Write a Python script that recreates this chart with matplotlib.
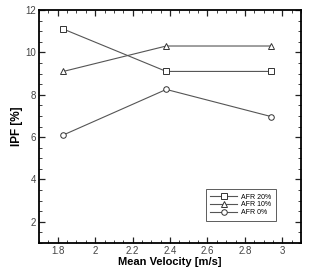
import matplotlib
matplotlib.use("Agg")
import matplotlib.pyplot as plt
from matplotlib.ticker import MultipleLocator

plt.rcParams["font.family"] = ["Liberation Sans", "DejaVu Sans"]

# datos
velocidad = [1.83, 2.38, 2.94]
afr20 = [11.1, 9.1, 9.1]
afr10 = [9.1, 10.3, 10.3]
afr0 = [6.1, 8.25, 6.97]
etiquetas = ["AFR 20%", "AFR 10%", "AFR 0%"]

fig = plt.figure(figsize=(3.32, 2.72), dpi=100)
ax = fig.add_axes([39 / 332, 1 - 243 / 272, 262 / 332, 233 / 272])

color = "#555555"
estilo = dict(color=color, lw=0.8, mfc="white", mec="#333333", mew=0.7, ms=4)
ax.plot(velocidad, afr20, marker="s", label=etiquetas[0], **estilo)
ax.plot(velocidad, afr10, marker="^", label=etiquetas[1], **estilo)
ax.plot(velocidad, afr0, marker="o", label=etiquetas[2], **estilo)

ax.set_xlim(1.7, 3.1)
ax.set_ylim(1, 12)
ax.xaxis.set_minor_locator(MultipleLocator(0.05))
ax.yaxis.set_minor_locator(MultipleLocator(0.5))
ax.set_xticks([1.8, 2.0, 2.2, 2.4, 2.6, 2.8, 3.0])
ax.set_xticklabels(["1.8", "2", "2.2", "2.4", "2.6", "2.8", "3"])
ax.set_yticks([2, 4, 6, 8, 10, 12])
ax.set_yticklabels(["2", "4", "6", "8", "10", "12"])

ax.tick_params(which="both", direction="in", top=True, right=True, labelsize=7, colors="#222222", pad=2)
ax.tick_params(axis="both", labelcolor="#444444")
ax.tick_params(which="major", length=4, width=0.9)
ax.tick_params(which="minor", length=2, width=0.6)
for s in ax.spines.values():
    s.set_linewidth(1.3)

ax.set_xlabel("Mean Velocity [m/s]", fontsize=8, fontweight="bold", labelpad=1)
ax.set_ylabel("IPF [%]", fontsize=8.5, fontweight="bold", labelpad=2)

leg = ax.legend(loc="lower right", bbox_to_anchor=(0.918, 0.08), fontsize=5,
                frameon=True, fancybox=False, edgecolor="#333333",
                handlelength=3.8, labelspacing=0.1, borderpad=0.7, handletextpad=0.6)
leg.get_frame().set_linewidth(0.7)

fig.savefig("out.png", dpi=100)
